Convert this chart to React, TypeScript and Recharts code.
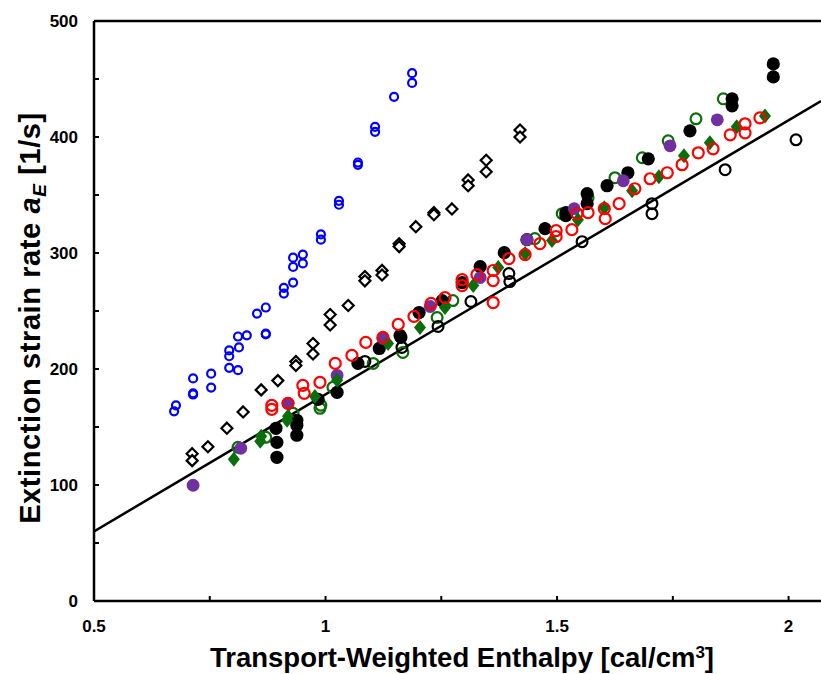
import React from "react";
import { ScatterChart, Scatter, XAxis, YAxis, ReferenceLine } from "recharts";

// series (x = enthalpy, y = strain rate)
const blueOpen = [
  { x: 0.673, y: 163.5 }, { x: 0.677, y: 168.7 }, { x: 0.714, y: 191.9 }, { x: 0.714, y: 179 },
  { x: 0.714, y: 178 }, { x: 0.753, y: 196 }, { x: 0.753, y: 184 }, { x: 0.792, y: 201 },
  { x: 0.792, y: 211 }, { x: 0.792, y: 216 }, { x: 0.811, y: 199 }, { x: 0.813, y: 218.6 },
  { x: 0.811, y: 228 }, { x: 0.83, y: 229 }, { x: 0.852, y: 247.8 }, { x: 0.871, y: 253 },
  { x: 0.871, y: 230.6 }, { x: 0.871, y: 229.8 }, { x: 0.91, y: 265 }, { x: 0.91, y: 270 },
  { x: 0.93, y: 274.5 }, { x: 0.93, y: 288 }, { x: 0.93, y: 296 }, { x: 0.951, y: 298.6 },
  { x: 0.951, y: 291 }, { x: 0.99, y: 316 }, { x: 0.99, y: 311.5 }, { x: 1.029, y: 345 },
  { x: 1.029, y: 341.6 }, { x: 1.07, y: 376 }, { x: 1.07, y: 378 }, { x: 1.107, y: 408.8 },
  { x: 1.107, y: 404.5 }, { x: 1.148, y: 434.6 }, { x: 1.187, y: 455 }, { x: 1.187, y: 446.6 },
];

const blackDiamond = [
  { x: 0.712, y: 127 }, { x: 0.712, y: 121 }, { x: 0.746, y: 133 }, { x: 0.787, y: 149 },
  { x: 0.822, y: 163 }, { x: 0.861, y: 182 }, { x: 0.897, y: 190 }, { x: 0.936, y: 206.5 },
  { x: 0.936, y: 203 }, { x: 0.973, y: 222 }, { x: 0.973, y: 213 }, { x: 1.01, y: 247 },
  { x: 1.01, y: 238 }, { x: 1.049, y: 254.7 }, { x: 1.085, y: 279.7 }, { x: 1.085, y: 276 },
  { x: 1.122, y: 285 }, { x: 1.122, y: 281 }, { x: 1.159, y: 308 }, { x: 1.159, y: 305.5 },
  { x: 1.195, y: 322.7 }, { x: 1.234, y: 334.8 }, { x: 1.234, y: 333 }, { x: 1.273, y: 338 },
  { x: 1.308, y: 363 }, { x: 1.308, y: 358 }, { x: 1.347, y: 380 }, { x: 1.347, y: 370 },
  { x: 1.42, y: 406 }, { x: 1.42, y: 400 },
];

const greenOpen = [
  { x: 0.811, y: 132.5 }, { x: 0.871, y: 141.1 }, { x: 0.93, y: 161.8 }, { x: 0.988, y: 166.1 },
  { x: 0.99, y: 168.7 }, { x: 1.016, y: 184.2 }, { x: 1.103, y: 204.8 }, { x: 1.167, y: 214.3 },
  { x: 1.241, y: 244.4 }, { x: 1.275, y: 259 }, { x: 1.452, y: 312.4 }, { x: 1.511, y: 333.9 },
  { x: 1.567, y: 347.7 }, { x: 1.625, y: 364.9 }, { x: 1.684, y: 382.1 }, { x: 1.74, y: 396.7 },
  { x: 1.8, y: 415.7 }, { x: 1.859, y: 432.9 },
];

const blackFilled = [
  { x: 0.895, y: 123.9 }, { x: 0.895, y: 136.8 }, { x: 0.893, y: 148.9 }, { x: 0.938, y: 142.9 },
  { x: 0.938, y: 151.5 }, { x: 0.938, y: 155.8 }, { x: 0.984, y: 173.8 }, { x: 1.025, y: 179.9 },
  { x: 1.07, y: 204.8 }, { x: 1.116, y: 217.7 }, { x: 1.161, y: 228.9 }, { x: 1.202, y: 248.7 },
  { x: 1.252, y: 259 }, { x: 1.295, y: 274.5 }, { x: 1.334, y: 288.3 }, { x: 1.386, y: 300.3 },
  { x: 1.435, y: 311.5 }, { x: 1.474, y: 321 }, { x: 1.519, y: 334.8 }, { x: 1.519, y: 332.2 },
  { x: 1.565, y: 351.1 }, { x: 1.565, y: 342.5 }, { x: 1.608, y: 358 }, { x: 1.653, y: 369.2 },
  { x: 1.697, y: 381.2 }, { x: 1.787, y: 405.3 }, { x: 1.878, y: 432.9 }, { x: 1.878, y: 426.9 },
  { x: 1.967, y: 463 }, { x: 1.967, y: 451.8 },
];

const purpleFilled = [
  { x: 0.714, y: 99.8 }, { x: 0.817, y: 131.7 }, { x: 0.919, y: 170.4 }, { x: 1.025, y: 194.5 },
  { x: 1.124, y: 226.3 }, { x: 1.226, y: 253.9 }, { x: 1.334, y: 278.8 }, { x: 1.435, y: 311.5 },
  { x: 1.537, y: 338.2 }, { x: 1.643, y: 362.3 }, { x: 1.744, y: 392.4 }, { x: 1.846, y: 414.8 },
];

const greenDiamond = [
  { x: 0.802, y: 122.2 }, { x: 0.859, y: 137.7 }, { x: 0.861, y: 142 }, { x: 0.917, y: 155.8 },
  { x: 0.919, y: 159.2 }, { x: 0.977, y: 176.4 }, { x: 1.025, y: 190.2 }, { x: 1.135, y: 222 },
  { x: 1.204, y: 235.8 }, { x: 1.258, y: 253 }, { x: 1.319, y: 271.9 }, { x: 1.373, y: 287.4 },
  { x: 1.431, y: 299.5 }, { x: 1.489, y: 310.7 }, { x: 1.545, y: 328.7 }, { x: 1.602, y: 339.1 },
  { x: 1.662, y: 353.7 }, { x: 1.72, y: 365.7 }, { x: 1.774, y: 383.8 }, { x: 1.83, y: 395 },
  { x: 1.888, y: 408.8 }, { x: 1.949, y: 418.2 },
];

const blackOpen = [
  { x: 1.085, y: 206.5 }, { x: 1.163, y: 227.2 }, { x: 1.165, y: 218.6 }, { x: 1.243, y: 236.7 },
  { x: 1.314, y: 258.2 }, { x: 1.396, y: 282.3 }, { x: 1.398, y: 275.4 }, { x: 1.554, y: 309.8 },
  { x: 1.705, y: 342.5 }, { x: 1.705, y: 333.9 }, { x: 1.863, y: 371.8 }, { x: 2.016, y: 397.6 },
];

const redOpen = [
  { x: 0.884, y: 168.7 }, { x: 0.884, y: 165.2 }, { x: 0.919, y: 170.4 }, { x: 0.951, y: 185.9 },
  { x: 0.954, y: 179 }, { x: 0.988, y: 188.5 }, { x: 1.021, y: 204.8 }, { x: 1.057, y: 211.7 },
  { x: 1.087, y: 222.9 }, { x: 1.124, y: 227.2 }, { x: 1.157, y: 238.4 }, { x: 1.191, y: 245.3 },
  { x: 1.228, y: 256.5 }, { x: 1.258, y: 261.6 }, { x: 1.295, y: 277.1 }, { x: 1.295, y: 271.9 },
  { x: 1.327, y: 281.4 }, { x: 1.362, y: 284.9 }, { x: 1.362, y: 276.2 }, { x: 1.362, y: 257.3 },
  { x: 1.396, y: 295.2 }, { x: 1.431, y: 298.6 }, { x: 1.463, y: 308.1 }, { x: 1.498, y: 319.3 },
  { x: 1.498, y: 314.1 }, { x: 1.532, y: 320.1 }, { x: 1.543, y: 333.9 }, { x: 1.567, y: 334.8 },
  { x: 1.602, y: 338.2 }, { x: 1.604, y: 329.6 }, { x: 1.634, y: 342.5 }, { x: 1.668, y: 355.4 },
  { x: 1.701, y: 364 }, { x: 1.738, y: 369.2 }, { x: 1.77, y: 376.1 }, { x: 1.805, y: 386.4 },
  { x: 1.837, y: 389.8 }, { x: 1.874, y: 401.9 }, { x: 1.906, y: 411.4 }, { x: 1.906, y: 403.6 },
  { x: 1.938, y: 416.5 },
];

// linear fit, drawn between the plot edges
const fitLine = [
  { x: 0.5, y: 60 },
  { x: 2.07, y: 431 },
];

const xTicks = [0.5, 0.75, 1, 1.25, 1.5, 1.75, 2];
const xLabels = ["0.5", "1", "1.5", "2"];
const yTicks = [0, 50, 100, 150, 200, 250, 300, 350, 400, 450, 500];
const yLabels = ["0", "100", "200", "300", "400", "500"];

const FONT = "'Liberation Sans', Arial, sans-serif";

const ring = (color: string, r: number, w = 2.2) => (p: any) =>
  <circle cx={p.cx} cy={p.cy} r={r} fill="none" stroke={color} strokeWidth={w} />;

const dot = (color: string, r: number) => (p: any) =>
  <circle cx={p.cx} cy={p.cy} r={r} fill={color} stroke="none" />;

const diamond = (color: string, w: number, h: number, filled: boolean) => (p: any) => (
  <polygon
    points={`${p.cx},${p.cy - h} ${p.cx + w},${p.cy} ${p.cx},${p.cy + h} ${p.cx - w},${p.cy}`}
    fill={filled ? color : "#fff"}
    stroke={color}
    strokeWidth={filled ? 0 : 2.2}
  />
);

function XTick(props: any) {
  const { x, y, payload } = props;
  const label = String(payload.value);
  return (
    <g>
      <line x1={x} y1={y} x2={x} y2={y - 5} stroke="#000" strokeWidth={2} />
      {xLabels.includes(label) && (
        <text x={x} y={y + 31} textAnchor="middle" fontFamily={FONT} fontWeight="bold" fontSize={17} fill="#000">
          {label}
        </text>
      )}
    </g>
  );
}

function YTick(props: any) {
  const { x, y, payload } = props;
  const label = String(payload.value);
  return (
    <g>
      <line x1={x} y1={y} x2={x + 5} y2={y} stroke="#000" strokeWidth={2} />
      {yLabels.includes(label) && (
        <text x={x - 16} y={y + 6} textAnchor="end" fontFamily={FONT} fontWeight="bold" fontSize={17} fill="#000">
          {label}
        </text>
      )}
    </g>
  );
}

export default function App() {
  return (
    <div style={{ position: "absolute", left: 0, top: 0, width: 821, height: 674, background: "#fff" }}>
      <ScatterChart width={821} height={674} margin={{ top: 21, right: 0, bottom: 0, left: 0 }}>
        <XAxis
          type="number"
          dataKey="x"
          domain={[0.5, 2.07]}
          ticks={xTicks}
          height={73}
          axisLine={{ stroke: "#000", strokeWidth: 2.5 }}
          tickLine={false}
          tickSize={0}
          tickMargin={0}
          tick={<XTick />}
          allowDataOverflow
        />
        <YAxis
          type="number"
          dataKey="y"
          domain={[0, 500]}
          ticks={yTicks}
          width={94}
          axisLine={{ stroke: "#000", strokeWidth: 2.5 }}
          tickLine={false}
          tickSize={0}
          tickMargin={0}
          tick={<YTick />}
          allowDataOverflow
        />
        <ReferenceLine y={500} stroke="#000" strokeWidth={2.5} />
        <ReferenceLine
          segment={[fitLine[0], fitLine[1]]}
          stroke="#000"
          strokeWidth={2.5}
          ifOverflow="hidden"
        />
        <Scatter data={blueOpen} shape={ring("#0000ff", 4)} isAnimationActive={false} />
        <Scatter data={blackDiamond} shape={diamond("#000", 5.5, 5.5, false)} isAnimationActive={false} />
        <Scatter data={greenOpen} shape={ring("#0a6e0a", 5.4)} isAnimationActive={false} />
        <Scatter data={blackFilled} shape={dot("#000", 6.6)} isAnimationActive={false} />
        <Scatter data={purpleFilled} shape={dot("#7030a0", 6.4)} isAnimationActive={false} />
        <Scatter data={greenDiamond} shape={diamond("#0a6e0a", 6, 7.5, true)} isAnimationActive={false} />
        <Scatter data={blackOpen} shape={ring("#000", 5.4)} isAnimationActive={false} />
        <Scatter data={redOpen} shape={ring("#ff0000", 5.5)} isAnimationActive={false} />
      </ScatterChart>

      <div
        style={{
          position: "absolute",
          left: 462,
          top: 658,
          transform: "translate(-50%, -50%)",
          whiteSpace: "nowrap",
          fontFamily: FONT,
          fontWeight: "bold",
          fontSize: 27.5,
          color: "#000",
        }}
      >
        Transport-Weighted Enthalpy [cal/cm<sup style={{ fontSize: 17, verticalAlign: "9px", lineHeight: 0 }}>3</sup>]
      </div>

      <div
        style={{
          position: "absolute",
          left: 30,
          top: 318,
          transform: "translate(-50%, -50%) rotate(-90deg)",
          whiteSpace: "nowrap",
          fontFamily: FONT,
          fontWeight: "bold",
          fontSize: 29,
          letterSpacing: 0.6,
          color: "#000",
        }}
      >
        Extinction strain rate <i>a</i>
        <sub style={{ fontSize: 19, fontStyle: "italic", verticalAlign: "-6px", lineHeight: 0 }}>E</sub> [1/s]
      </div>
    </div>
  );
}
